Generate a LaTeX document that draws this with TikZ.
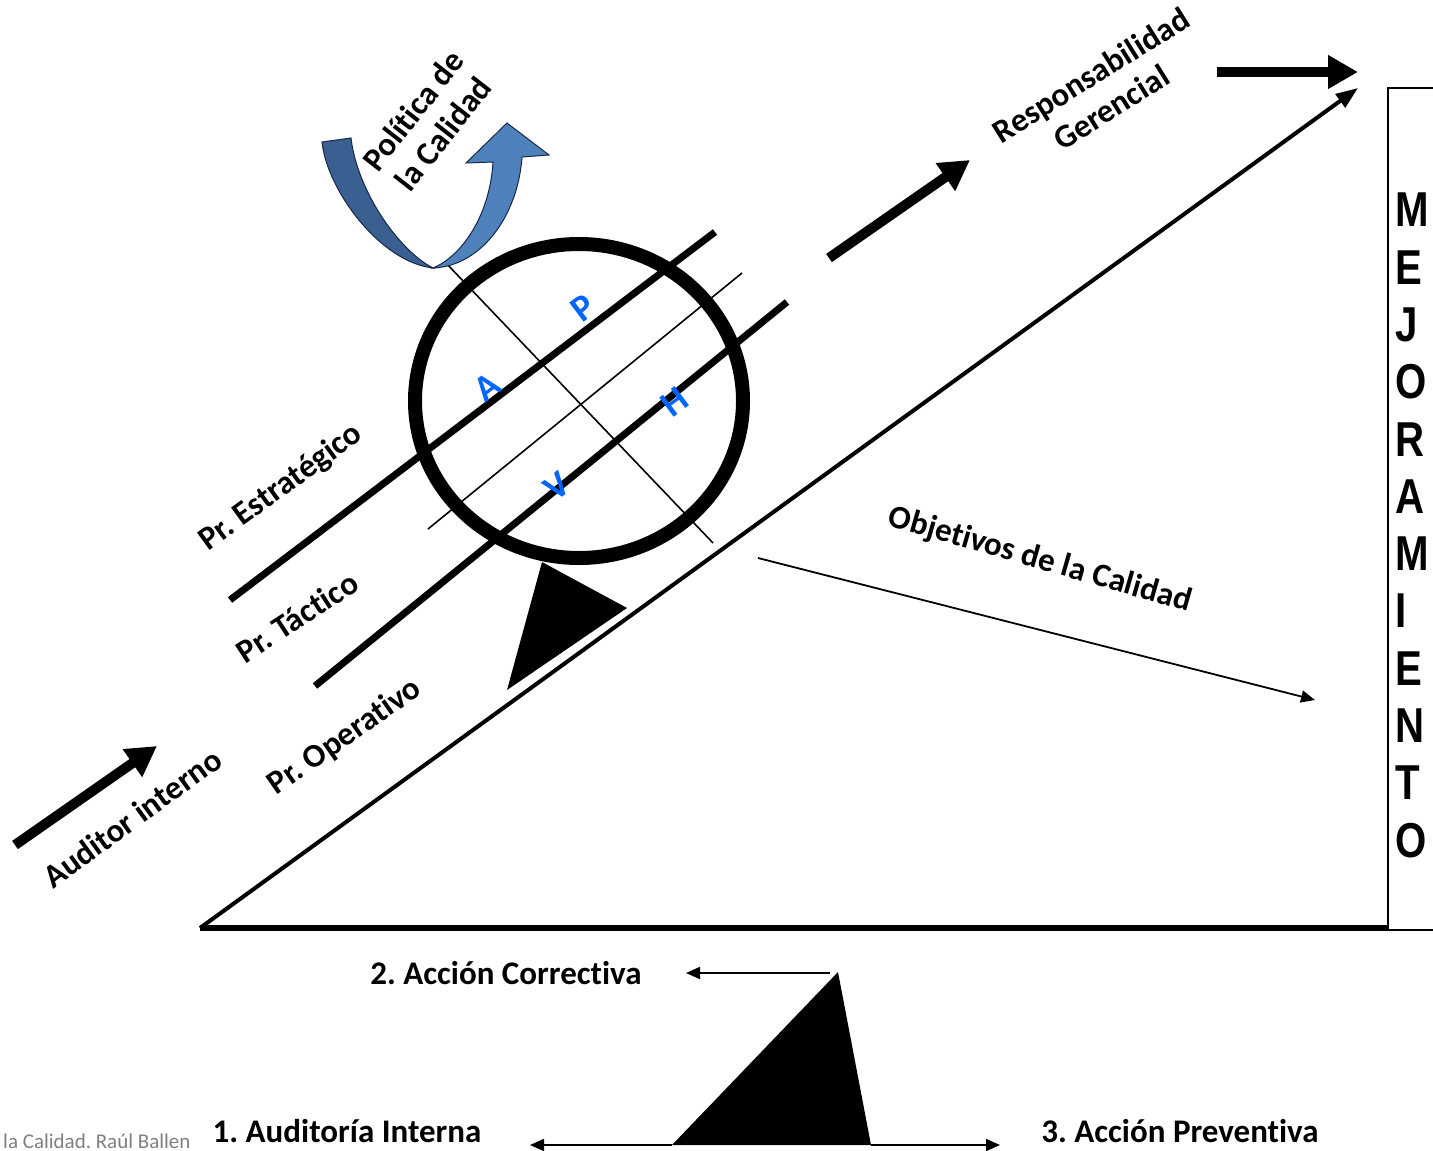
\documentclass[tikz,border=0pt]{standalone}
\usepackage{fontspec}
\setmainfont{Carlito}[Ligatures=NoCommon]
\newfontfamily\mejfont{Liberation Sans}[FakeStretch=0.82]
\usetikzlibrary{arrows.meta}
\frenchspacing
\definecolor{phvaBlue}{RGB}{0,102,255}
\definecolor{ribDark}{RGB}{58,95,145}
\definecolor{ribLight}{RGB}{79,129,189}
\definecolor{ribEdge}{RGB}{22,40,70}
\definecolor{noteGray}{RGB}{128,128,128}

\begin{document}
\begin{tikzpicture}[x=1pt,y=-1pt,
    lbl/.style={font=\bfseries\fontsize{33}{38}\selectfont,inner sep=0pt,align=center},
    phva/.style={font=\bfseries\fontsize{37}{37}\selectfont,text=phvaBlue,inner sep=0pt,rotate=37},
    mej/.style={font=\mejfont\bfseries\fontsize{49}{49}\selectfont,inner sep=0pt,anchor=west},
    fat/.style={-{Triangle[length=30pt,width=32pt]},line width=10pt},
    slim/.style={-{Triangle[length=14pt,width=12pt]},line width=1.8pt},
    proc/.style={line width=7pt},
    thin/.style={line width=1.6pt}
  ]
  \useasboundingbox[fill=white] (0,0) rectangle (1433,1151);

  % key points
  \coordinate (base0) at (200,928);
  \coordinate (base1) at (1388,928);
  \coordinate (top)   at (1358,88);
  \coordinate (boxB)  at (1388,930);

  % main slope and ground
  \draw[line width=6pt] (base0) -- (base1);
  \draw[-{Triangle[length=22pt,width=16pt]},line width=4pt] (base0) -- (top);
  \draw[line width=2pt] (1433,88) -| (boxB) -- (1433,930);

  % process lines
  \coordinate (e0) at (230,600);  \coordinate (e1) at (715,232);
  \coordinate (o0) at (315,686);  \coordinate (o1) at (787,302);
  \coordinate (t0) at (428,529);  \coordinate (t1) at (742,273);
  \coordinate (c0) at (445,262);  \coordinate (c1) at (713,543);
  \draw[proc] (e0) -- (e1);
  \draw[proc] (o0) -- (o1);
  \draw[thin] (t0) -- (t1);
  \draw[thin] (c0) -- (c1);

  % wheel and wedge
  \draw[line width=14pt] (579,401) ellipse [x radius=164, y radius=157];
  \fill (542,562) -- (627,608) -- (507,690) -- cycle;

  \node[phva] (pA) at (487,387) {A};
  \node[phva] (pP) at (583,308) {P};
  \node[phva] (pH) at (675,402) {H};
  \node[phva] (pV) at (557,486) {V};

  % quality policy ribbon
  \filldraw[fill=ribDark,draw=ribEdge,line width=1pt]
    (322,142) .. controls (327,190) and (380,262) .. (433,268)
    .. controls (398,250) and (357,190) .. (351,138) -- cycle;
  \filldraw[fill=ribLight,draw=ribEdge,line width=1pt]
    (433,268) .. controls (482,266) and (518,215) .. (522,157)
    -- (549,155) -- (507,123) -- (466,163) -- (493,162)
    .. controls (490,215) and (462,256) .. (433,268) -- cycle;

  % labels
  \node[lbl,rotate=52] (politica) at (428,122) {Política de\\la Calidad};
  \node[lbl,rotate=32] (resp) at (1101,91) {Responsabilidad\\Gerencial};
  \node[lbl,rotate=36] (estr) at (281,488) {Pr. Estratégico};
  \node[lbl,rotate=33] (tact) at (297,617) {Pr. Táctico};
  \node[lbl,rotate=35] (oper) at (345,737) {Pr. Operativo};
  \node[lbl,rotate=36] (auditor) at (132,818) {Auditor interno};
  \node[lbl,rotate=-16] (objetivos) at (1040,560) {Objetivos de la Calidad};

  % bold arrows
  \coordinate (aud0) at (15,845);   \coordinate (aud1) at (157,746);
  \coordinate (mid0) at (829,258);  \coordinate (mid1) at (970,160);
  \coordinate (res0) at (1217,72);  \coordinate (res1) at (1358,72);
  \draw[fat] (aud0) -- (aud1);
  \draw[fat] (mid0) -- (mid1);
  \draw[fat] (res0) -- (res1);

  % objectives arrow
  \coordinate (obj0) at (758,558);  \coordinate (obj1) at (1315,700);
  \draw[slim] (obj0) -- (obj1);

  % MEJORAMIENTO
  \foreach \l [count=\i] in {M,E,J,O,R,A,M,I,E,N,T,O}
    \node[mej] (mej\i) at (1395,{210+57.3*(\i-1)}) {\l};

  % bottom: lever
  \coordinate (lvT) at (838,972);
  \coordinate (lvR) at (871,1145);
  \coordinate (lvL) at (672,1145);
  \fill (lvT) -- (lvR) -- (lvL) -- cycle;
  \node[lbl] (correctiva) at (506,973) {2. Acción Correctiva};
  \node[lbl] (auditoria) at (347,1131) {1. Auditoría Interna};
  \node[lbl] (preventiva) at (1180,1131) {3. Acción Preventiva};
  \coordinate (corr0) at (830,973);  \coordinate (corr1) at (686,973);
  \coordinate (left1) at (530,1145); \coordinate (right1) at (1000,1145);
  \draw[slim] (corr0) -- (corr1);
  \draw[slim] (lvL) -- (left1);
  \draw[slim] (lvR) -- (right1);

  \node[font=\fontsize{21}{21}\selectfont,text=noteGray,inner sep=0pt,anchor=west] (fuente) at (3,1141) {la Calidad. Raúl Ballen};
\end{tikzpicture}
\end{document}
